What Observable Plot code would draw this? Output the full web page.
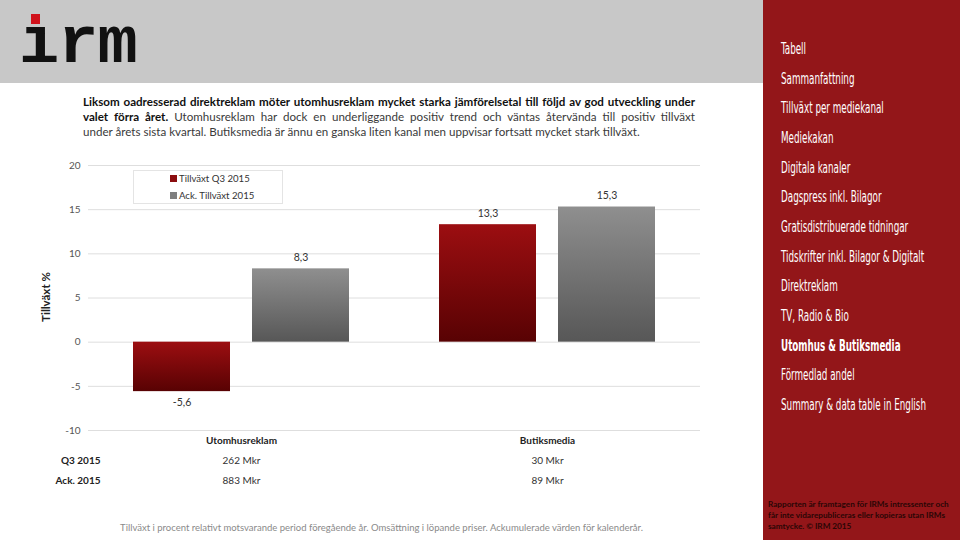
<!DOCTYPE html>
<html><head><meta charset="utf-8">
<script src="https://cdn.jsdelivr.net/npm/d3@7"></script>
<script src="https://cdn.jsdelivr.net/npm/@observablehq/plot@0.6"></script>
<style>
body{margin:0;width:960px;height:540px;position:relative;overflow:hidden;background:#fff;font-family:Lato,"Open Sans",sans-serif;}
.abs{position:absolute;}
#banner{left:0;top:0;width:763px;height:83px;background:#c8c8c8;}
#logo{left:19px;top:8px;font-family:"Liberation Mono",monospace;font-weight:bold;font-size:67px;line-height:72px;color:#111;letter-spacing:-1px;}
#dot{left:31px;top:14px;width:9px;height:10px;background:#d0121b;}
#side{left:763px;top:0;width:197px;height:540px;background:#931619;}
.menu{left:781px;color:#fff;font-family:"Liberation Sans Narrow","DejaVu Sans Condensed",sans-serif;font-size:16px;line-height:20px;white-space:nowrap;transform-origin:left center;transform:scaleX(0.61);}
.menu.active{font-weight:bold;}
#note{left:768px;top:499px;width:192px;font-size:8.2px;line-height:11px;font-weight:bold;color:#2a0606;white-space:nowrap;}
.hl{left:83px;width:612px;font-size:11.6px;line-height:15px;color:#3a3a3a;white-space:nowrap;}
.just{text-align:justify;text-align-last:justify;}
.hl b{color:#111;}
#ytitle{left:45px;top:297px;transform:translate(-50%,-50%) rotate(-90deg);font-weight:bold;font-size:11.5px;color:#222;white-space:nowrap;}
#legend{left:133px;top:170px;width:150px;height:34px;border:1px solid #e4e4e4;box-sizing:border-box;}
.li{left:170px;font-size:9.6px;line-height:12px;color:#333;white-space:nowrap;}
.sw{display:inline-block;width:7px;height:7px;margin-right:2px;vertical-align:0px;}
#foot{left:0;width:763px;top:522px;text-align:center;font-size:9.5px;color:#8a8a8a;}
#chart{left:0;top:150px;}
</style></head>
<body>
<div id="banner" class="abs"></div>
<div id="logo" class="abs">ırm</div>
<div id="dot" class="abs"></div>
<div id="side" class="abs"></div>
<div id="menu"></div>
<div id="note" class="abs">Rapporten är framtagen för IRMs intressenter och<br>får inte vidarepubliceras eller kopieras utan IRMs<br>samtycke. © IRM 2015</div>
<div class="abs hl just" style="top:94px"><b>Liksom oadresserad direktreklam möter utomhusreklam mycket starka jämförelsetal till följd av god utveckling under</b></div>
<div class="abs hl just" style="top:109px"><b>valet förra året.</b> Utomhusreklam har dock en underliggande positiv trend och väntas återvända till positiv tillväxt</div>
<div class="abs hl" style="top:124px">under årets sista kvartal. Butiksmedia är ännu en ganska liten kanal men uppvisar fortsatt mycket stark tillväxt.</div>
<div id="chart" class="abs"></div>
<div id="ytitle" class="abs">Tillväxt %</div>
<div id="legend" class="abs"></div>
<div id="legendItems"></div>
<div id="foot" class="abs">Tillväxt i procent relativt motsvarande period föregående år. Omsättning i löpande priser. Ackumulerade värden för kalenderår.</div>
<script>
const menuItems = ["Tabell","Sammanfattning","Tillväxt per mediekanal","Mediekakan","Digitala kanaler","Dagspress inkl. Bilagor","Gratisdistribuerade tidningar","Tidskrifter inkl. Bilagor & Digitalt","Direktreklam","TV, Radio & Bio","Utomhus & Butiksmedia","Förmedlad andel","Summary & data table in English"];
const activeMenu = "Utomhus & Butiksmedia";

const categories = ["Utomhusreklam","Butiksmedia"];
const seriesNames = ["Tillväxt Q3 2015","Ack. Tillväxt 2015"];
const seriesColors = ["#8b0d0f","#7f7f7f"];
const q3Growth = [-5.6, 13.3];
const ackGrowth = [8.3, 15.3];
const rowLabels = ["Q3 2015","Ack. 2015"];
const q3Revenue = ["262 Mkr","30 Mkr"];
const ackRevenue = ["883 Mkr","89 Mkr"];
const yTicks = [-10,-5,0,5,10,15,20];

// menu
const menu = document.getElementById("menu");
menuItems.forEach((m,i)=>{
  const d = document.createElement("div");
  d.className = "abs menu" + (m===activeMenu?" active":"");
  d.style.top = (49 + i*29.67 - 10) + "px";
  d.textContent = m;
  menu.appendChild(d);
});
// legend items
const li = document.getElementById("legendItems");
seriesNames.forEach((s,i)=>{
  const d = document.createElement("div");
  d.className = "abs li";
  d.style.top = (173 + i*17) + "px";
  d.innerHTML = `<span class="sw" style="background:${seriesColors[i]}"></span>${s}`;
  li.appendChild(d);
});

const rows = categories.flatMap((c,i)=>[
  {cat:c, series:seriesNames[0], value:q3Growth[i]},
  {cat:c, series:seriesNames[1], value:ackGrowth[i]}
]);
const fmt = v => v.toFixed(1).replace(".", ",");
const tableQ3 = categories.map((c,i)=>({cat:c, v:q3Revenue[i]}));
const tableAck = categories.map((c,i)=>({cat:c, v:ackRevenue[i]}));
const rowLab = rowLabels.map((t,i)=>({cat:categories[0], t, i}));

const svg = Plot.plot({
  width:720, height:345,
  marginTop:15, marginBottom:65, marginLeft:88, marginRight:20,
  style:{fontFamily:"Lato, 'Open Sans', sans-serif", fontSize:"10px", color:"#555", background:"transparent", overflow:"visible"},
  fx:{domain:categories, paddingInner:0, paddingOuter:0, axis:null, label:null},
  x:{domain:seriesNames, paddingInner:0.183, paddingOuter:0.367, axis:null, label:null},
  y:{domain:[-10,20], ticks:yTicks, tickFormat:d=>String(d), tickSize:0, tickPadding:8, label:null},
  marks:[
    Plot.ruleY(yTicks,{stroke:"#dedede", strokeWidth:1}),
    Plot.barY(rows.filter(d=>d.series===seriesNames[0]),{fx:"cat", x:"series", y1:0, y2:"value", fill:"url(#gRed)"}),
    Plot.barY(rows.filter(d=>d.series===seriesNames[1]),{fx:"cat", x:"series", y1:0, y2:"value", fill:"url(#gGray)"}),
    Plot.text(rows.filter(d=>d.value>=0),{fx:"cat", x:"series", y:"value", text:d=>fmt(d.value), dy:-11, fontSize:10.5, fill:"#333"}),
    Plot.text(rows.filter(d=>d.value<0),{fx:"cat", x:"series", y:"value", text:d=>fmt(d.value), dy:11, fontSize:10.5, fill:"#333"}),
    Plot.text(categories,{fx:d=>d, text:d=>d, frameAnchor:"bottom", dy:13, fontWeight:"bold", fontSize:10, fill:"#222"}),
    Plot.text(tableQ3,{fx:"cat", text:"v", frameAnchor:"bottom", dy:33, fontSize:10, fill:"#333"}),
    Plot.text(tableAck,{fx:"cat", text:"v", frameAnchor:"bottom", dy:53, fontSize:10, fill:"#333"}),
    Plot.text(rowLab.filter(d=>d.i===0),{fx:"cat", text:"t", frameAnchor:"bottom-left", textAnchor:"end", dx:12, dy:33, fontWeight:"bold", fontSize:10, fill:"#222"}),
    Plot.text(rowLab.filter(d=>d.i===1),{fx:"cat", text:"t", frameAnchor:"bottom-left", textAnchor:"end", dx:12, dy:53, fontWeight:"bold", fontSize:10, fill:"#222"})
  ]
});
const defs = d3.select(svg).insert("defs", ":first-child");
const g1 = defs.append("linearGradient").attr("id","gRed").attr("x1",0).attr("y1",0).attr("x2",0).attr("y2",1);
g1.append("stop").attr("offset","0%").attr("stop-color","#9c0e11");
g1.append("stop").attr("offset","100%").attr("stop-color","#580203");
const g2 = defs.append("linearGradient").attr("id","gGray").attr("x1",0).attr("y1",0).attr("x2",0).attr("y2",1);
g2.append("stop").attr("offset","0%").attr("stop-color","#8f8f8f");
g2.append("stop").attr("offset","100%").attr("stop-color","#575757");
document.getElementById("chart").appendChild(svg);
</script>
</body></html>
